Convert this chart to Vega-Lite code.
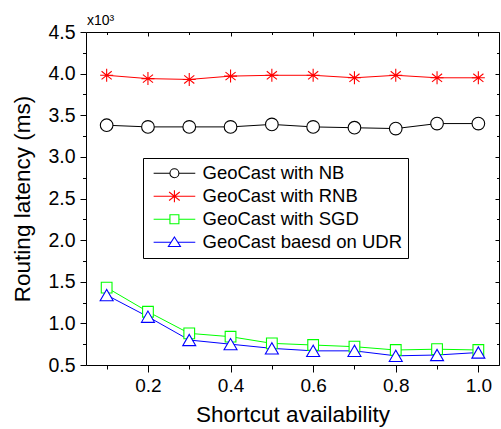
{
  "$schema": "https://vega.github.io/schema/vega-lite/v6.json",
  "width": 413,
  "height": 333,
  "autosize": {"type": "none"},
  "padding": {"left": 86, "top": 32, "right": 2, "bottom": 64},
  "background": "white",
  "config": {
    "view": {"stroke": "black", "strokeWidth": 1},
    "font": "Liberation Sans",
    "axis": {"grid": false, "domain": false, "tickColor": "black", "labelColor": "black", "titleColor": "black", "labelFont": "Liberation Sans", "titleFont": "Liberation Sans", "titleFontWeight": "normal", "tickWidth": 1}
  },
  "data": {"values": [
    {"x": 0.1, "series": "GeoCast with NB", "y": 3.38},
    {"x": 0.2, "series": "GeoCast with NB", "y": 3.36},
    {"x": 0.3, "series": "GeoCast with NB", "y": 3.36},
    {"x": 0.4, "series": "GeoCast with NB", "y": 3.36},
    {"x": 0.5, "series": "GeoCast with NB", "y": 3.39},
    {"x": 0.6, "series": "GeoCast with NB", "y": 3.36},
    {"x": 0.7, "series": "GeoCast with NB", "y": 3.35},
    {"x": 0.8, "series": "GeoCast with NB", "y": 3.34},
    {"x": 0.9, "series": "GeoCast with NB", "y": 3.40},
    {"x": 1.0, "series": "GeoCast with NB", "y": 3.40},
    {"x": 0.1, "series": "GeoCast with RNB", "y": 3.98},
    {"x": 0.2, "series": "GeoCast with RNB", "y": 3.94},
    {"x": 0.3, "series": "GeoCast with RNB", "y": 3.93},
    {"x": 0.4, "series": "GeoCast with RNB", "y": 3.97},
    {"x": 0.5, "series": "GeoCast with RNB", "y": 3.98},
    {"x": 0.6, "series": "GeoCast with RNB", "y": 3.98},
    {"x": 0.7, "series": "GeoCast with RNB", "y": 3.95},
    {"x": 0.8, "series": "GeoCast with RNB", "y": 3.98},
    {"x": 0.9, "series": "GeoCast with RNB", "y": 3.95},
    {"x": 1.0, "series": "GeoCast with RNB", "y": 3.95},
    {"x": 0.1, "series": "GeoCast with SGD", "y": 1.43},
    {"x": 0.2, "series": "GeoCast with SGD", "y": 1.14},
    {"x": 0.3, "series": "GeoCast with SGD", "y": 0.88},
    {"x": 0.4, "series": "GeoCast with SGD", "y": 0.84},
    {"x": 0.5, "series": "GeoCast with SGD", "y": 0.76},
    {"x": 0.6, "series": "GeoCast with SGD", "y": 0.74},
    {"x": 0.7, "series": "GeoCast with SGD", "y": 0.72},
    {"x": 0.8, "series": "GeoCast with SGD", "y": 0.68},
    {"x": 0.9, "series": "GeoCast with SGD", "y": 0.69},
    {"x": 1.0, "series": "GeoCast with SGD", "y": 0.68},
    {"x": 0.1, "series": "GeoCast baesd on UDR", "y": 1.34},
    {"x": 0.2, "series": "GeoCast baesd on UDR", "y": 1.08},
    {"x": 0.3, "series": "GeoCast baesd on UDR", "y": 0.80},
    {"x": 0.4, "series": "GeoCast baesd on UDR", "y": 0.75},
    {"x": 0.5, "series": "GeoCast baesd on UDR", "y": 0.70},
    {"x": 0.6, "series": "GeoCast baesd on UDR", "y": 0.67},
    {"x": 0.7, "series": "GeoCast baesd on UDR", "y": 0.67},
    {"x": 0.8, "series": "GeoCast baesd on UDR", "y": 0.61},
    {"x": 0.9, "series": "GeoCast baesd on UDR", "y": 0.62},
    {"x": 1.0, "series": "GeoCast baesd on UDR", "y": 0.65}
  ]},
  "resolve": {"axis": {"x": "independent", "y": "independent"}, "legend": {"color": "independent", "shape": "independent"}},
  "layer": [
    {
      "mark": {"type": "line", "strokeWidth": 1},
      "encoding": {
        "x": {"field": "x", "type": "quantitative", "scale": {"domain": [0.05, 1.05], "nice": false, "zero": false},
          "axis": {"orient": "bottom", "title": "Shortcut availability", "titleFontSize": 22.5, "labelFontSize": 19, "values": [0.1,0.2,0.3,0.4,0.5,0.6,0.7,0.8,0.9,1.0],
            "labelExpr": "round(datum.value*10) % 2 == 0 ? format(datum.value, '.1f') : ''",
            "tickSize": {"condition": {"test": "round(datum.value*10) % 2 == 0", "value": 7}, "value": 4},
            "labelPadding": 4, "titlePadding": 8, "labelFlush": false, "labelOverlap": false}},
        "y": {"field": "y", "type": "quantitative", "scale": {"domain": [0.5, 4.5], "nice": false, "zero": false},
          "axis": {"orient": "left", "title": "Routing latency (ms)", "titleFontSize": 22.5, "labelFontSize": 19.5, "values": [0.5,0.75,1,1.25,1.5,1.75,2,2.25,2.5,2.75,3,3.25,3.5,3.75,4,4.25,4.5],
            "labelExpr": "abs(datum.value*2 - round(datum.value*2)) < 0.001 ? format(datum.value, '.1f') : ''",
            "tickSize": {"condition": {"test": "abs(datum.value*2 - round(datum.value*2)) < 0.001", "value": 6}, "value": 3.5},
            "labelPadding": 5, "titlePadding": 13, "labelFlush": false, "labelOverlap": false}},
        "color": {"field": "series", "type": "nominal",
          "scale": {"domain": ["GeoCast with NB", "GeoCast with RNB", "GeoCast with SGD", "GeoCast baesd on UDR"], "range": ["#000000", "#ff0000", "#00ff00", "#0000ff"]},
          "legend": null}
      }
    },
    {
      "transform": [{"filter": "datum.series == 'GeoCast with NB'"}],
      "mark": {"type": "point", "shape": "circle", "size": 160, "filled": true, "fill": "white", "stroke": "#000000", "strokeWidth": 1.1, "opacity": 1},
      "encoding": {"x": {"field": "x", "type": "quantitative", "axis": null}, "y": {"field": "y", "type": "quantitative", "axis": null}}
    },
    {
      "transform": [{"filter": "datum.series == 'GeoCast with RNB'"}],
      "mark": {"type": "point", "shape": "M0,-1V1M-1,0H1M-0.78,-0.62L0.78,0.62M-0.78,0.62L0.78,-0.62", "size": 169, "filled": false, "stroke": "#ff0000", "strokeWidth": 1.1, "opacity": 1},
      "encoding": {"x": {"field": "x", "type": "quantitative", "axis": null}, "y": {"field": "y", "type": "quantitative", "axis": null}}
    },
    {
      "transform": [{"filter": "datum.series == 'GeoCast with SGD'"}],
      "mark": {"type": "point", "shape": "square", "size": 115, "filled": true, "fill": "white", "stroke": "#00ff00", "strokeWidth": 1.1, "opacity": 1},
      "encoding": {"x": {"field": "x", "type": "quantitative", "axis": null}, "y": {"field": "y", "type": "quantitative", "axis": null}}
    },
    {
      "transform": [{"filter": "datum.series == 'GeoCast baesd on UDR'"}],
      "mark": {"type": "point", "shape": "triangle-up", "size": 169, "filled": true, "fill": "white", "stroke": "#0000ff", "strokeWidth": 1.1, "opacity": 1},
      "encoding": {"x": {"field": "x", "type": "quantitative", "axis": null}, "y": {"field": "y", "type": "quantitative", "axis": null}}
    },
    {
      "data": {"values": [{"label": "x10³"}]},
      "mark": {"type": "text", "align": "left", "baseline": "alphabetic", "dx": 1, "dy": -7, "fontSize": 14, "font": "Liberation Sans", "color": "black"},
      "encoding": {
        "x": {"datum": 0.05, "type": "quantitative", "axis": null},
        "y": {"datum": 4.5, "type": "quantitative", "axis": null},
        "text": {"field": "label", "type": "nominal"}
      }
    },
    {
      "mark": {"type": "point", "filled": false, "opacity": 0, "strokeWidth": 1.1},
      "encoding": {
        "x": {"field": "x", "type": "quantitative",
          "axis": {"orient": "top", "title": null, "labels": false, "values": [0.1,0.2,0.3,0.4,0.5,0.6,0.7,0.8,0.9,1.0],
            "tickSize": {"condition": {"test": "round(datum.value*10) % 2 == 0", "value": -4}, "value": -2.5}}},
        "y": {"field": "y", "type": "quantitative",
          "axis": {"orient": "right", "title": null, "labels": false, "values": [0.5,0.75,1,1.25,1.5,1.75,2,2.25,2.5,2.75,3,3.25,3.5,3.75,4,4.25,4.5],
            "tickSize": {"condition": {"test": "abs(datum.value*2 - round(datum.value*2)) < 0.001", "value": -4}, "value": -2.5}}},
        "color": {"field": "series", "type": "nominal",
          "scale": {"domain": ["GeoCast with NB", "GeoCast with RNB", "GeoCast with SGD", "GeoCast baesd on UDR"], "range": ["#000000", "#ff0000", "#00ff00", "#0000ff"]},
          "legend": {"title": null, "orient": "none", "legendX": 57, "legendY": 126, "strokeColor": "black", "fillColor": "white", "padding": 6, "labelFontSize": 18.5, "labelFont": "Liberation Sans", "labelColor": "black", "symbolSize": 196, "symbolStrokeWidth": 1.1, "symbolOpacity": 1, "labelOffset": 35, "rowPadding": 4, "labelLimit": 400, "cornerRadius": 0}},
        "shape": {"field": "series", "type": "nominal",
          "scale": {"domain": ["GeoCast with NB", "GeoCast with RNB", "GeoCast with SGD", "GeoCast baesd on UDR"],
            "range": [
              "M-0.66,0H1.67M2.95,0H5.29M2.95,0A0.64,0.64 0 1,1 1.67,0A0.64,0.64 0 1,1 2.95,0",
              "M-0.66,0H5.29M2.31,-0.85V0.85M1.55,-0.6L3.07,0.6M1.55,0.6L3.07,-0.6",
              "M-0.66,0H1.67M2.95,0H5.29M1.67,-0.64H2.95V0.64H1.67Z",
              "M-0.66,0H1.83M2.79,0H5.29M2.31,-0.75L3.17,0.6H1.45Z"
            ]},
          "legend": {"title": null, "orient": "none", "legendX": 57, "legendY": 126, "strokeColor": "black", "fillColor": "white", "padding": 6, "labelFontSize": 18.5, "labelFont": "Liberation Sans", "labelColor": "black", "symbolSize": 196, "symbolStrokeWidth": 1.1, "symbolOpacity": 1, "labelOffset": 35, "rowPadding": 4, "labelLimit": 400, "cornerRadius": 0}}
      }
    }
  ]
}
